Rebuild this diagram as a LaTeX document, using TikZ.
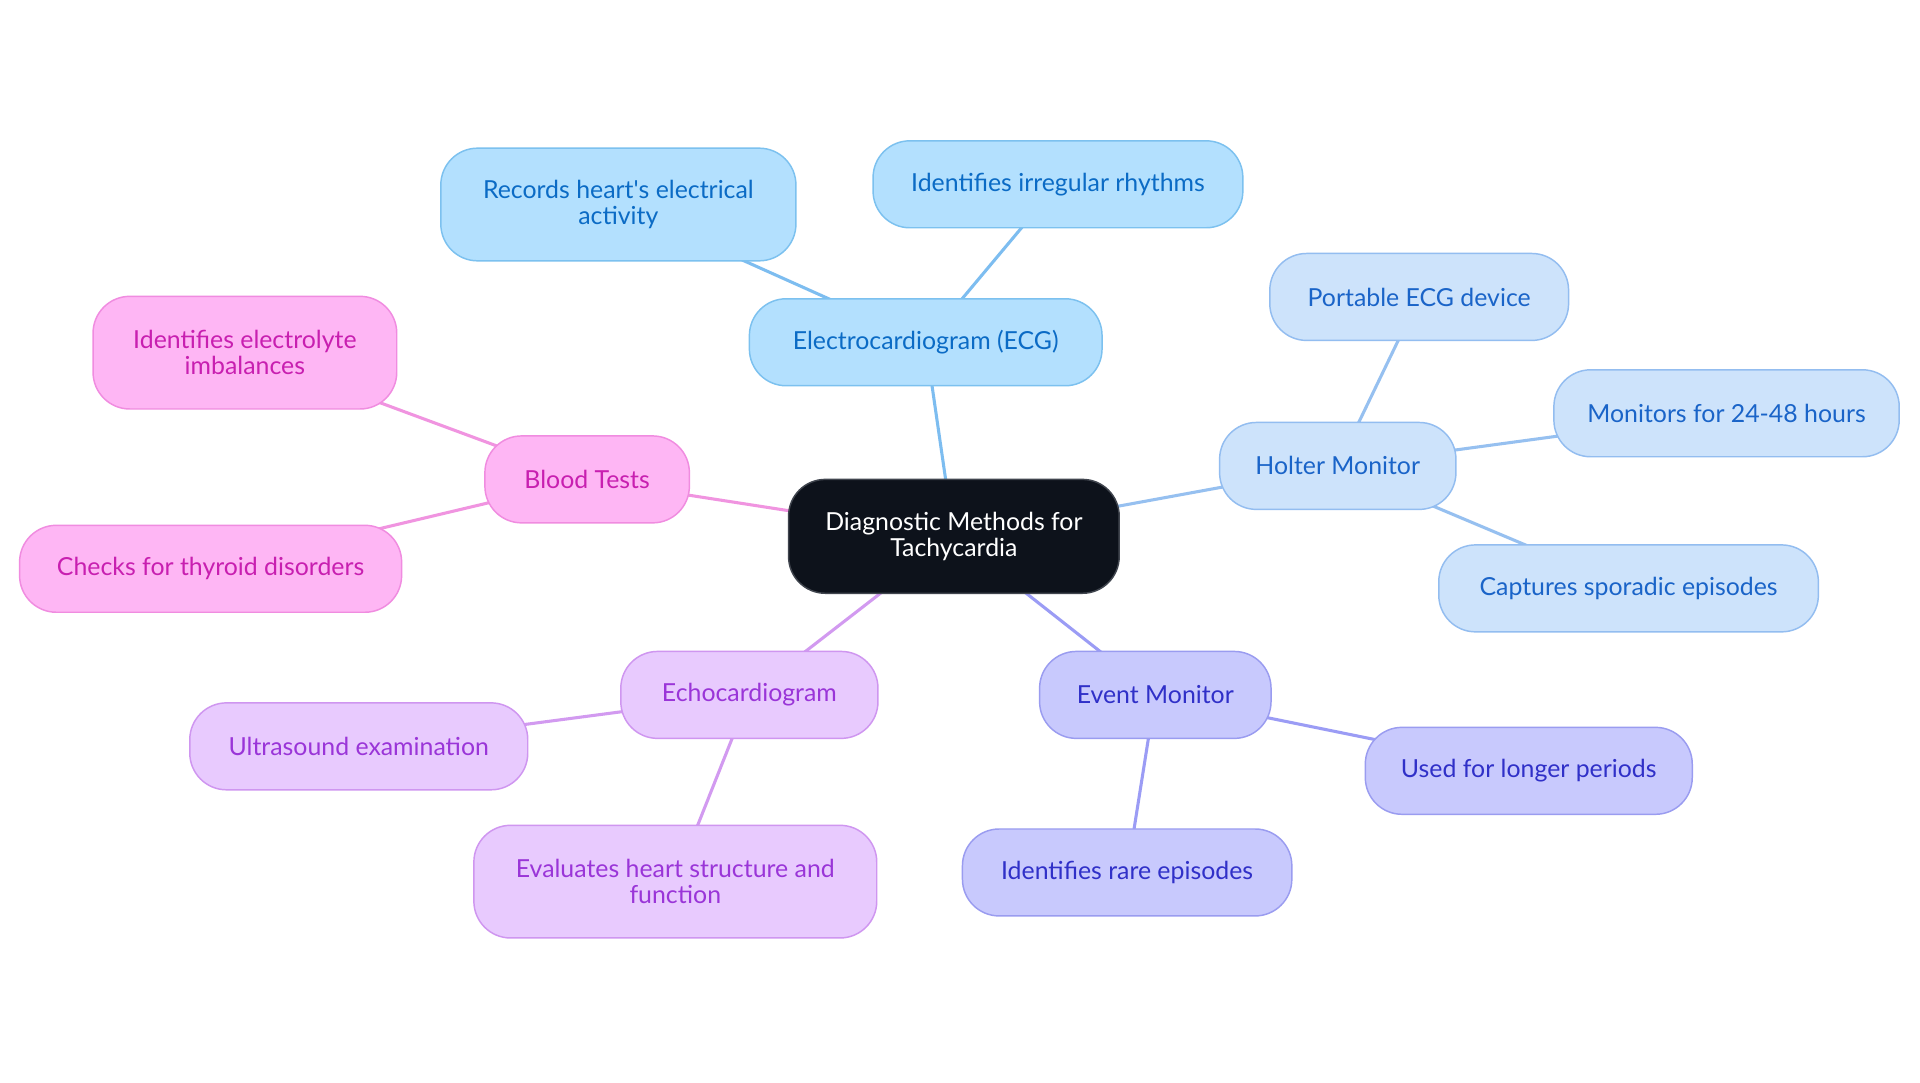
\documentclass[tikz,border=0pt]{standalone}
\usepackage{fontspec}
\setmainfont{Lato}
\usetikzlibrary{backgrounds}
\definecolor{ecgfill}{HTML}{B3E0FE}
\definecolor{ecgdraw}{HTML}{7CC1EF}
\definecolor{ecgtext}{HTML}{0B6BC5}
\definecolor{ecgedge}{HTML}{7DBDF0}
\definecolor{holfill}{HTML}{CDE3FB}
\definecolor{holdraw}{HTML}{93BDF0}
\definecolor{holtext}{HTML}{1A64C8}
\definecolor{holedge}{HTML}{96C0F0}
\definecolor{evtfill}{HTML}{C8C9FD}
\definecolor{evtdraw}{HTML}{9A9CF0}
\definecolor{evttext}{HTML}{3030C8}
\definecolor{evtedge}{HTML}{9B9CF5}
\definecolor{echfill}{HTML}{E8CAFE}
\definecolor{echdraw}{HTML}{CF96F0}
\definecolor{echtext}{HTML}{9A35D8}
\definecolor{echedge}{HTML}{D29AF0}
\definecolor{blofill}{HTML}{FEB6F4}
\definecolor{blodraw}{HTML}{F08CE0}
\definecolor{blotext}{HTML}{C81FB0}
\definecolor{bloedge}{HTML}{F094E0}
\definecolor{cenfill}{HTML}{0D121B}
\definecolor{cendraw}{HTML}{40454E}
\tikzset{
  box/.style={rounded corners=30pt, line width=1.2pt, align=center, inner sep=0pt,
    font=\fontsize{20.3}{21.5}\selectfont},
  ecgbox/.style={box, fill=ecgfill, draw=ecgdraw, text=ecgtext},
  holbox/.style={box, fill=holfill, draw=holdraw, text=holtext},
  evtbox/.style={box, fill=evtfill, draw=evtdraw, text=evttext},
  echbox/.style={box, fill=echfill, draw=echdraw, text=echtext},
  blobox/.style={box, fill=blofill, draw=blodraw, text=blotext},
  cenbox/.style={box, fill=cenfill, draw=cendraw, text=white},
  link/.style={line width=2.5pt},
  sz/.style 2 args={minimum width=#1pt, minimum height=#2pt}
}
\begin{document}
\begin{tikzpicture}[x=1pt,y=-1pt]
\useasboundingbox (0,0) rectangle (1568,884.4);
\node[cenbox, sz={270}{93}] (cen) at (779,438) {Diagnostic Methods for\\Tachycardia};
\node[ecgbox, sz={288}{71}] (ecg) at (756,279.5) {Electrocardiogram (ECG)};
\node[ecgbox, sz={290}{92}] (rec) at (505,167) {Records heart\textquotesingle s electrical\\activity};
\node[ecgbox, sz={302}{71}] (irr) at (864,150.5) {Identifies irregular rhythms};
\node[holbox, sz={193}{71}] (hol) at (1092.5,380.5) {Holter Monitor};
\node[holbox, sz={244}{71}] (port) at (1159,242.5) {Portable ECG device};
\node[holbox, sz={282}{71}] (mon) at (1410,337.5) {Monitors for 24-48 hours};
\node[holbox, sz={310}{71}] (cap) at (1330,480.5) {Captures sporadic episodes};
\node[evtbox, sz={189}{71}] (evt) at (943.5,567.5) {Event Monitor};
\node[evtbox, sz={267}{71}] (used) at (1248.5,629.5) {Used for longer periods};
\node[evtbox, sz={269}{71}] (rare) at (920.5,712.5) {Identifies rare episodes};
\node[echbox, sz={210}{71}] (echo) at (612,567.5) {Echocardiogram};
\node[echbox, sz={276}{71}] (ultra) at (293,609.5) {Ultrasound examination};
\node[echbox, sz={329}{92}] (eval) at (551.5,720) {Evaluates heart structure and\\function};
\node[blobox, sz={167}{71}] (blood) at (479.5,391.5) {Blood Tests};
\node[blobox, sz={248}{92}] (elec) at (200,288) {Identifies electrolyte\\imbalances};
\node[blobox, sz={312}{71}] (thy) at (172,464.5) {Checks for thyroid disorders};
\begin{scope}[on background layer]
\fill[white] (0,0) rectangle (1568,884.4);
\draw[link, ecgedge] (cen.center) -- (ecg.center);
\draw[link, ecgedge] (ecg.center) -- (rec.center);
\draw[link, ecgedge] (ecg.center) -- (irr.center);
\draw[link, holedge] (cen.center) -- (hol.center);
\draw[link, holedge] (hol.center) -- (port.center);
\draw[link, holedge] (hol.center) -- (mon.center);
\draw[link, holedge] (hol.center) -- (cap.center);
\draw[link, evtedge] (cen.center) -- (evt.center);
\draw[link, evtedge] (evt.center) -- (used.center);
\draw[link, evtedge] (evt.center) -- (rare.center);
\draw[link, echedge] (cen.center) -- (echo.center);
\draw[link, echedge] (echo.center) -- (ultra.center);
\draw[link, echedge] (echo.center) -- (eval.center);
\draw[link, bloedge] (cen.center) -- (blood.center);
\draw[link, bloedge] (blood.center) -- (elec.center);
\draw[link, bloedge] (blood.center) -- (thy.center);
\end{scope}
\end{tikzpicture}
\end{document}
